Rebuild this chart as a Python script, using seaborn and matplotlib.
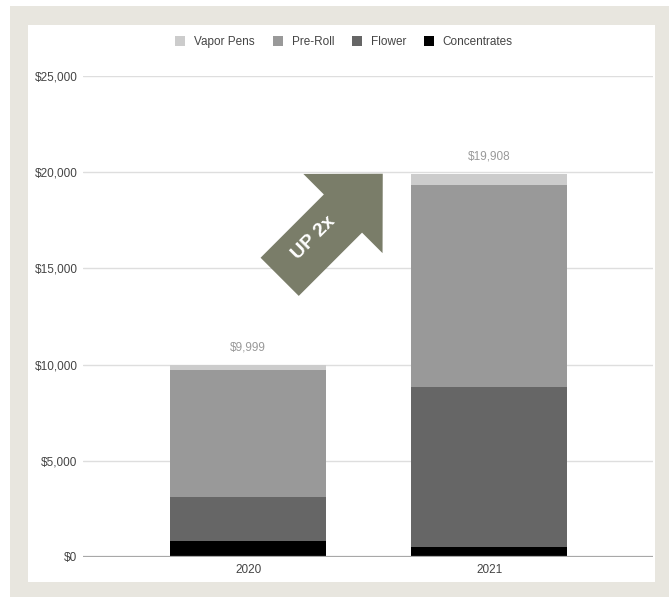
import numpy as np
import pandas as pd
import matplotlib
matplotlib.use("Agg")
import matplotlib.pyplot as plt
from matplotlib.patches import Rectangle, Polygon, Patch
import seaborn as sns

years = ["2020", "2021"]
series = ["Vapor Pens", "Pre-Roll", "Flower", "Concentrates"]
concentrates = [845, 534]
flower = [2267, 8300]
pre_roll = [6587, 10514]
vapor_pens = [300, 560]
totals = [9999, 19908]
colors = {"Vapor Pens": "#cccccc", "Pre-Roll": "#999999",
          "Flower": "#666666", "Concentrates": "#000000"}
yticks = [0, 5000, 10000, 15000, 20000, 25000]

sns.set_style("white")
plt.rcParams["font.family"] = ["Liberation Sans", "DejaVu Sans"]

W, H = 669, 597
fig = plt.figure(figsize=(W / 100, H / 100), dpi=100, facecolor="white")

def px(x, y):
    return x / W, 1 - y / H

# background panels
fig.patches.append(Rectangle(px(10, 597), (669 - 10) / W, (597 - 6) / H,
                             transform=fig.transFigure, facecolor="#e8e6df",
                             edgecolor="none", zorder=-10))
fig.patches.append(Rectangle(px(28, 582), (655 - 28) / W, (582 - 25) / H,
                             transform=fig.transFigure, facecolor="white",
                             edgecolor="none", zorder=-9))

l, b = px(83, 557)
r, t = px(653, 76)
ax = fig.add_axes([l, b, r - l, t - b])
ax.set_facecolor("none")

df = pd.DataFrame({"Year": years, "Concentrates": concentrates, "Flower": flower,
                   "Pre-Roll": pre_roll, "Vapor Pens": vapor_pens})
stack_order = ["Concentrates", "Flower", "Pre-Roll", "Vapor Pens"]
cum = df[stack_order].cumsum(axis=1)
for s in reversed(stack_order):
    sns.barplot(x=df["Year"], y=cum[s], color=colors[s], width=0.65,
                saturation=1, ax=ax, zorder=3, edgecolor="none")

for i, tot in enumerate(totals):
    ax.annotate(f"${tot:,}", xy=(i, tot), xytext=(0, 8), textcoords="offset points",
                ha="center", va="bottom", fontsize=8.5, color="#999999")

ax.set_ylim(0, 25000)
ax.set_xlim(-0.685, 1.68)
ax.set_yticks(yticks)
ax.set_yticklabels([f"${v:,}" for v in yticks])
ax.set_xlabel("")
ax.set_ylabel("")
for v in yticks[1:]:
    ax.axhline(v, color="#dedede", lw=1, zorder=1)
ax.axhline(0, color="#a8a8a8", lw=1.6, zorder=4)
for sp in ax.spines.values():
    sp.set_visible(False)
ax.tick_params(axis="y", length=0, pad=4, labelsize=8.5, labelcolor="#444444")
ax.tick_params(axis="x", length=0, pad=5, labelsize=8.5, labelcolor="#444444")

handles = [Patch(facecolor=colors[s], edgecolor="none", label=s) for s in series]
fig.legend(handles=handles, loc="center", bbox_to_anchor=(344 / W, 1 - 42 / H),
           ncol=4, frameon=False, fontsize=8.5, handlelength=0.85, handleheight=0.85,
           handletextpad=0.75, columnspacing=1.5, labelcolor="#444444")

# "UP 2x" arrow (decoration, pixel geometry)
s2 = np.sqrt(2)
def uv(u, v):
    x = (u + v) / s2
    y = (v - u) / s2
    return px(x, y)

vc = 393.5
pts_uv = [(147.8, vc), (91.5, vc + 56), (91.5, vc + 27), (2, vc + 27),
          (2, vc - 27), (91.5, vc - 27), (91.5, vc - 56)]
fig.patches.append(Polygon([uv(u, v) for u, v in pts_uv], closed=True,
                           transform=fig.transFigure, facecolor="#7a7d69",
                           edgecolor="none", zorder=5))
tx, ty = px(314, 238)
fig.text(tx, ty, "UP 2x", rotation=45, ha="center", va="center", color="white",
         fontsize=14, fontweight="bold", family=["Liberation Sans", "DejaVu Sans"],
         zorder=6)

fig.savefig("out.png", dpi=100, facecolor="white")
